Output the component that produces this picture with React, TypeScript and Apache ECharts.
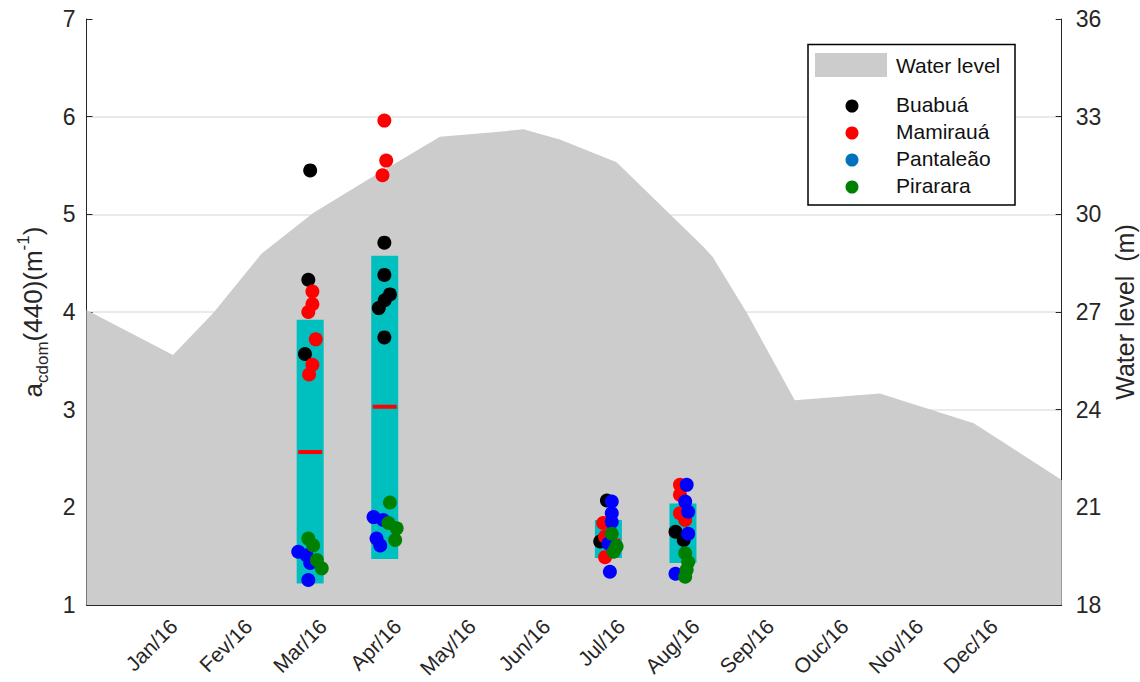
import React, { useEffect, useRef } from "react";
import * as echarts from "echarts";

// ---- data ----
const monthLabels = ["Jan/16", "Fev/16", "Mar/16", "Apr/16", "May/16", "Jun/16", "Jul/16", "Aug/16", "Sep/16", "Ouc/16", "Nov/16", "Dec/16"];
const monthTicks = [1, 2, 3, 4, 5, 6, 7, 8, 9, 10, 11, 12];

const waterMonths = [0, 1.16, 1.7, 2.35, 3.04, 3.76, 4.74, 5.5, 5.86, 6.35, 7.11, 8.27, 8.4, 8.86, 9.5, 10.64, 11.9, 13.08];
const waterLevels = [27.06, 25.68, 26.97, 28.8, 30.04, 31.05, 32.38, 32.53, 32.61, 32.3, 31.6, 29.01, 28.69, 26.96, 24.29, 24.5, 23.58, 21.84];

const boxMonths = [3, 4, 7, 8];
const boxLow = [1.22, 1.47, 1.48, 1.43];
const boxHigh = [3.92, 4.575, 1.87, 2.04];
const boxMid = [2.566, 3.03, 1.66, 1.74];

const buabuaMonths = [3.0, 2.975, 2.93, 3.995, 3.995, 4.07, 4.0, 3.92, 3.995, 6.98, 6.89, 7.9, 8.01];
const buabuaValues = [5.45, 4.33, 3.57, 4.71, 4.38, 4.18, 4.12, 4.04, 3.74, 2.07, 1.65, 1.75, 1.665];

const mamirauaMonths = [3.03, 3.03, 2.975, 3.075, 3.03, 2.985, 3.995, 4.02, 3.97, 6.93, 6.955, 6.955, 7.96, 7.96, 7.96, 8.03];
const mamirauaValues = [4.21, 4.08, 4.0, 3.72, 3.46, 3.36, 5.96, 5.55, 5.4, 1.84, 1.7, 1.49, 2.23, 2.13, 1.94, 1.87];

const pantaleaoMonths = [2.84, 2.95, 3.0, 2.975, 3.85, 3.98, 3.89, 3.94, 7.045, 7.045, 7.045, 7.0, 7.02, 8.05, 8.03, 8.07, 8.07, 7.9];
const pantaleaoValues = [1.545, 1.51, 1.43, 1.256, 1.9, 1.87, 1.68, 1.61, 2.06, 1.94, 1.85, 1.63, 1.34, 2.23, 2.06, 1.955, 1.73, 1.32];

const piraraMonths = [2.975, 3.04, 3.09, 3.155, 4.07, 4.05, 4.16, 4.14, 7.045, 7.11, 7.07, 8.03, 8.07, 8.05, 8.03];
const piraraValues = [1.68, 1.61, 1.46, 1.375, 2.05, 1.84, 1.785, 1.665, 1.73, 1.6, 1.545, 1.53, 1.44, 1.36, 1.29];

const siteNames = ["Buabuá", "Mamirauá", "Pantaleão", "Pirarara"];
const waterLegend = "Water level";

// ---- styles ----
const FONT = "'Liberation Sans', Arial, sans-serif";
const AXIS_COLOR = "#262626";
const siteColors = ["#000000", "#FF0000", "#0000FF", "#008000"];
const legendColors = ["#000000", "#FF0000", "#0072BD", "#008000"];

function pairs(xs: number[], ys: number[]) {
  return xs.map((x, i) => [x, ys[i]]);
}

export default function App() {
  const ref = useRef<HTMLDivElement>(null);

  useEffect(() => {
    document.body.style.margin = "0";
    if (!ref.current) return;
    const chart = echarts.init(ref.current, null, { renderer: "svg" });

    const siteData = [
      pairs(buabuaMonths, buabuaValues),
      pairs(mamirauaMonths, mamirauaValues),
      pairs(pantaleaoMonths, pantaleaoValues),
      pairs(piraraMonths, piraraValues),
    ];

    const legendRows = [104, 131, 158, 185];

    const option: any = {
      animation: false,
      backgroundColor: "#ffffff",
      grid: { left: 86.5, right: 78.3, top: 19, bottom: 77, containLabel: false, outerBoundsMode: "none" },
      xAxis: {
        type: "value",
        min: 0,
        max: 13.08,
        interval: 1,
        axisLine: { show: true, onZero: false, lineStyle: { color: AXIS_COLOR, width: 1 } },
        axisTick: { show: true, inside: true, length: 6, customValues: monthTicks, lineStyle: { color: AXIS_COLOR } },
        axisLabel: {
          customValues: monthTicks,
          showMinLabel: true,
          showMaxLabel: true,
          hideOverlap: false,
          rotate: 45,
          align: "right",
          verticalAlign: "top",
          lineHeight: 36,
          margin: 5,
          fontSize: 21,
          fontFamily: FONT,
          color: AXIS_COLOR,
          formatter: (v: number) => monthLabels[Math.round(v) - 1] ?? "",
        },
        splitLine: { show: false },
      },
      yAxis: [
        {
          type: "value",
          position: "left",
          min: 1,
          max: 7,
          interval: 1,
          axisLine: { show: true, onZero: false, lineStyle: { color: AXIS_COLOR, width: 1 } },
          axisTick: { show: true, inside: true, length: 6, lineStyle: { color: AXIS_COLOR } },
          axisLabel: { fontSize: 23, margin: 11, fontFamily: FONT, color: AXIS_COLOR },
          splitLine: { show: true, showMinLine: false, showMaxLine: false, lineStyle: { color: "#E3E3E3", width: 1.5 } },
          name: "{a|a}{sub|cdom}{a|(440)(m}{sup|-1}{a|)}",
          nameLocation: "middle",
          nameRotate: 90,
          nameGap: 36,
          nameTextStyle: {
            rich: {
              a: { fontSize: 26, fontFamily: FONT, color: AXIS_COLOR, lineHeight: 36 },
              sub: { fontSize: 17, fontFamily: FONT, color: AXIS_COLOR, lineHeight: 19, verticalAlign: "bottom" },
              sup: { fontSize: 17, fontFamily: FONT, color: AXIS_COLOR, lineHeight: 19, verticalAlign: "top" },
            },
          },
        },
        {
          type: "value",
          position: "right",
          min: 18,
          max: 36,
          interval: 3,
          axisLine: { show: true, onZero: false, lineStyle: { color: AXIS_COLOR, width: 1 } },
          axisTick: { show: true, inside: true, length: 6, lineStyle: { color: AXIS_COLOR } },
          axisLabel: { fontSize: 23, margin: 14, fontFamily: FONT, color: AXIS_COLOR },
          splitLine: { show: false },
          name: "Water level  (m)",
          nameLocation: "middle",
          nameRotate: 90,
          nameGap: 50,
          nameTextStyle: { fontSize: 25, fontFamily: FONT, color: AXIS_COLOR },
        },
      ],
      series: [
        {
          name: waterLegend,
          type: "line",
          yAxisIndex: 1,
          data: pairs(waterMonths, waterLevels),
          symbol: "none",
          lineStyle: { width: 0 },
          areaStyle: { color: "#CCCCCC", opacity: 1, origin: "start" },
          z: 1,
          silent: true,
        },
        {
          type: "custom",
          yAxisIndex: 0,
          encode: { x: 0, y: [1, 2, 3] },
          data: boxMonths.map((m, i) => [m, boxLow[i], boxHigh[i], boxMid[i]]),
          renderItem: (params: any, api: any) => {
            const lo = api.coord([api.value(0), api.value(1)]);
            const hi = api.coord([api.value(0), api.value(2)]);
            const md = api.coord([api.value(0), api.value(3)]);
            return {
              type: "group",
              children: [
                { type: "rect", shape: { x: lo[0] - 13.5, y: hi[1], width: 27, height: lo[1] - hi[1] }, style: { fill: "#00BFBF" } },
                { type: "rect", shape: { x: md[0] - 12, y: md[1] - 2, width: 24, height: 4 }, style: { fill: "#FF0000" } },
              ],
            };
          },
          z: 3,
          silent: true,
        },
        ...siteNames.map((name, i) => ({
          name,
          type: "scatter",
          yAxisIndex: 0,
          data: siteData[i],
          symbol: "circle",
          symbolSize: 14,
          itemStyle: { color: siteColors[i], opacity: 1 },
          z: 4 + i,
          silent: true,
        })),
      ],
      graphic: [
        {
          type: "rect",
          z: 100,
          shape: { x: 808, y: 44.5, width: 207, height: 160.5 },
          style: { fill: "#ffffff", stroke: "#000000", lineWidth: 1.5 },
        },
        {
          type: "rect",
          z: 101,
          shape: { x: 815, y: 53, width: 72, height: 24 },
          style: { fill: "#CCCCCC" },
        },
        {
          type: "text",
          z: 101,
          x: 896,
          y: 65,
          style: { text: waterLegend, fontSize: 21, fontFamily: FONT, fill: "#111111", verticalAlign: "middle", align: "left" },
        },
        ...siteNames.map((name, i) => ({
          type: "circle",
          z: 101,
          shape: { cx: 852, cy: legendRows[i] + 2, r: 6.5 },
          style: { fill: legendColors[i] },
        })),
        ...siteNames.map((name, i) => ({
          type: "text",
          z: 101,
          x: 896,
          y: legendRows[i],
          style: { text: name, fontSize: 21, fontFamily: FONT, fill: "#111111", verticalAlign: "middle", align: "left" },
        })),
      ],
    };

    chart.setOption(option);
    return () => chart.dispose();
  }, []);

  return <div ref={ref} style={{ width: 1140, height: 682 }} />;
}
